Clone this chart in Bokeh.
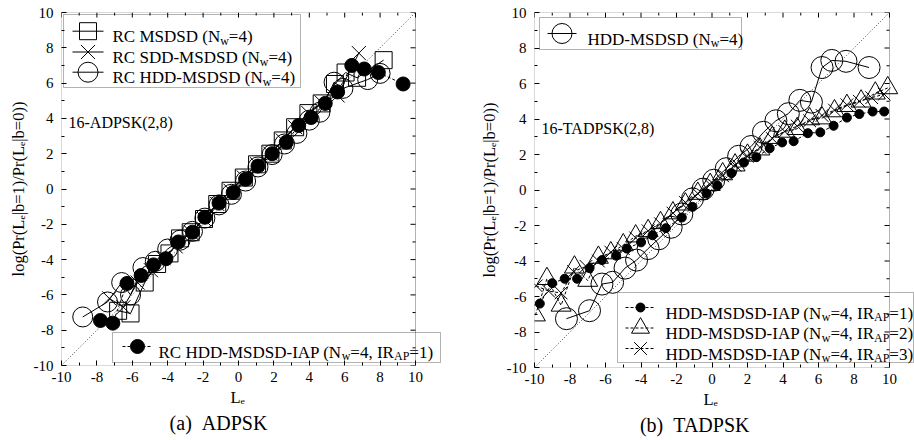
from bokeh.plotting import figure
from bokeh.layouts import row
from bokeh.models import Range1d, FixedTicker, Label, BoxAnnotation, Title
from bokeh.embed import file_html
from bokeh.resources import INLINE

# ---------------- panel (a): 16-ADPSK(2,8) ----------------
a_msdsd_x = [-6.8, -6.1, -5.3, -4.6, -3.9, -3.3, -2.7, -1.95, -1.2, -0.45, 0.3, 1.05, 1.8, 2.5, 3.2, 3.95, 4.7, 5.45, 6.05, 6.7, 8.2]
a_msdsd_y = [-6.9, -7.05, -5.3, -4.25, -3.65, -2.8, -2.45, -1.7, -0.85, -0.1, 0.65, 1.4, 2.0, 2.75, 3.5, 4.3, 4.85, 5.95, 6.6, 6.3, 7.3]

a_sdd_x = [-7.3, -6.5, -5.7, -4.95, -4.25, -3.55, -2.7, -1.95, -1.2, -0.45, 0.3, 1.05, 1.8, 2.5, 3.2, 3.95, 4.7, 5.6, 6.8]
a_sdd_y = [-6.2, -6.7, -5.3, -4.6, -3.9, -3.25, -2.45, -1.7, -0.85, -0.1, 0.65, 1.4, 2.0, 2.75, 3.5, 4.3, 4.9, 5.3, 7.7]

a_hdd_x = [-8.8, -7.4, -6.6, -6.1, -5.4, -4.7, -4.0, -3.3, -2.6, -1.9, -1.1, -0.4, 0.4, 1.1, 1.9, 2.6, 3.3, 4.0, 4.6, 5.4, 5.9, 7.3, 8.0]
a_hdd_y = [-7.25, -6.4, -5.3, -6.0, -4.45, -4.1, -3.4, -2.9, -2.4, -1.65, -0.9, -0.3, 0.45, 1.25, 1.95, 2.55, 3.15, 3.9, 4.35, 6.05, 5.7, 6.2, 6.55]

a_iap_x = [-7.8, -7.1, -6.3, -5.5, -4.8, -4.1, -3.4, -2.6, -1.9, -1.1, -0.3, 0.4, 1.1, 1.9, 2.7, 3.4, 4.1, 4.9, 5.6, 6.4, 7.1, 7.9, 9.3]
a_iap_y = [-7.45, -7.6, -5.35, -4.9, -4.3, -3.95, -3.0, -2.45, -1.6, -0.8, -0.2, 0.55, 1.3, 2.0, 2.65, 3.6, 4.05, 4.85, 5.5, 7.0, 6.8, 6.6, 5.95]

# ---------------- panel (b): 16-TADPSK(2,8) ----------------
b_hdd_x = [-8.2, -6.9, -6.2, -5.6, -4.9, -4.25, -3.6, -3.0, -2.3, -1.7, -1.1, -0.5, 0.1, 0.8, 1.5, 2.2, 2.9, 3.6, 4.3, 4.95, 5.6, 6.2, 6.75, 7.55, 8.85]
b_hdd_y = [-7.25, -6.8, -5.3, -5.2, -4.4, -3.95, -3.3, -2.75, -2.1, -1.35, -0.5, 0.05, 0.55, 1.2, 1.9, 2.45, 3.25, 3.9, 4.3, 5.05, 4.95, 6.9, 7.3, 7.25, 6.9]

b_iap1_x = [-9.7, -9.0, -8.3, -7.6, -6.9, -6.2, -5.4, -4.8, -4.0, -3.35, -2.6, -1.7, -1.1, -0.3, 0.3, 1.1, 1.8, 2.5, 3.25, 3.95, 4.6, 5.4, 6.1, 6.85, 7.6, 8.3, 9.05, 9.7]
b_iap1_y = [-6.4, -5.25, -5.0, -5.0, -4.4, -3.95, -3.7, -3.3, -2.95, -2.55, -2.15, -1.55, -0.95, -0.2, 0.25, 0.95, 1.55, 1.85, 2.35, 2.68, 2.75, 3.2, 3.25, 3.62, 4.08, 4.28, 4.42, 4.42]

b_iap2_x = [-9.95, -9.3, -8.5, -7.75, -7.0, -6.4, -5.7, -5.0, -4.3, -3.6, -2.9, -2.2, -1.5, -0.8, -0.1, 0.6, 1.3, 2.0, 2.7, 3.4, 4.1, 4.8, 5.5, 6.2, 6.9, 7.6, 8.4, 9.2, 9.9]
b_iap2_y = [-7.05, -5.0, -6.5, -4.35, -5.1, -3.8, -3.55, -3.1, -2.6, -2.3, -1.85, -1.3, -0.8, -0.2, 0.3, 0.9, 1.4, 1.95, 2.3, 2.95, 3.3, 3.45, 4.0, 4.05, 4.45, 4.75, 5.0, 5.45, 5.75]

b_iap3_x = [-9.9, -9.2, -8.5, -7.8, -7.1, -6.4, -5.7, -5.0, -4.3, -3.6, -2.9, -2.2, -1.5, -0.8, -0.1, 0.6, 1.3, 2.0, 2.7, 3.4, 4.1, 4.8, 5.5, 6.2, 6.9, 7.6, 8.3, 9.0, 9.7]
b_iap3_y = [-5.4, -5.7, -5.8, -4.6, -4.3, -4.0, -3.5, -3.3, -2.7, -2.3, -1.9, -1.3, -0.7, -0.2, 0.3, 0.8, 1.4, 1.9, 2.4, 2.9, 3.3, 3.6, 3.9, 4.2, 4.5, 4.8, 5.0, 5.2, 5.4]

# axis extent, ticks and the y = x reference line
axis_min, axis_max = -10, 10
major_ticks = [-10, -8, -6, -4, -2, 0, 2, 4, 6, 8, 10]
minor_ticks = [-9, -7, -5, -3, -1, 1, 3, 5, 7, 9]
diag = [axis_min, axis_max]

SERIF = "Liberation Serif"
MAIN = 17
SUB = 12
DROP = 4
Y_LABEL = "log(Pr(L\u2091|b=1)/Pr(L\u2091|b=0))"
X_LABEL = "L\u2091"

# advance widths of the Times-metric serif face (per 1000 em)
ADV = {}
for ch, w in zip("abcdefghijklmnopqrstuvwxyz",
                 [444, 500, 444, 500, 444, 333, 500, 500, 278, 278, 500, 278, 778,
                  500, 500, 500, 500, 333, 389, 278, 500, 500, 722, 500, 500, 444]):
    ADV[ch] = w
for ch, w in zip("ABCDEFGHIJKLMNOPQRSTUVWXYZ",
                 [722, 667, 667, 722, 611, 556, 722, 722, 333, 389, 722, 611, 889,
                  722, 722, 556, 722, 667, 556, 611, 722, 722, 944, 722, 722, 611]):
    ADV[ch] = w
for ch in "0123456789":
    ADV[ch] = 500
ADV.update({" ": 250, "\u00a0": 250, "(": 333, ")": 333, "=": 564, ",": 250,
            "-": 333, "|": 200, "/": 278, ".": 250})


def text_px(s, size):
    return sum(ADV.get(c, 500) for c in s) * size / 1000.0


def rich_text(p, x, y, parts, size=MAIN, sub=SUB, drop=DROP):
    """Place a line made of normal and subscript runs (frame pixel units)."""
    pos = x
    for s, is_sub in parts:
        fs = sub if is_sub else size
        p.add_layout(Label(x=pos, y=y - (drop if is_sub else 0), x_units="screen", y_units="screen",
                           text=s, text_font=SERIF, text_font_size=f"{fs}px", text_color="black",
                           text_align="left", text_baseline="alphabetic"))
        pos += text_px(s, fs)


def style_axis(ax, standoff, label, label_standoff):
    ax.ticker = FixedTicker(ticks=major_ticks, minor_ticks=minor_ticks)
    ax.major_label_overrides = {t: str(t) for t in major_ticks}
    ax.axis_line_color = None
    ax.major_tick_line_color = "black"
    ax.minor_tick_line_color = "black"
    ax.major_tick_in = 5
    ax.major_tick_out = 0
    ax.minor_tick_in = 3
    ax.minor_tick_out = 0
    ax.major_label_text_font = SERIF
    ax.major_label_text_font_size = "15px"
    ax.major_label_text_color = "black"
    ax.major_label_standoff = standoff
    if label:
        ax.axis_label = label
        ax.axis_label_text_font = SERIF
        ax.axis_label_text_font_size = "16.5px"
        ax.axis_label_text_font_style = "normal"
        ax.axis_label_text_color = "black"
        ax.axis_label_standoff = label_standoff


def panel(fl, ft, fw, fh, tw, th, ux, uy, label_standoff):
    """ux, uy: pixels per axis unit; the frame runs on to the right edge for the legends."""
    p = figure(width=tw, height=th, frame_width=fw, frame_height=fh,
               min_border_left=fl, min_border_top=ft,
               min_border_right=0, min_border_bottom=th - ft - fh,
               x_range=Range1d(axis_min, axis_min + fw / ux),
               y_range=Range1d(axis_min, axis_max),
               output_backend="svg", toolbar_location=None, tools="")
    p.extra_x_ranges = {"px": Range1d(0, fw)}
    p.extra_y_ranges = {"px": Range1d(0, fh)}
    p.xgrid.visible = False
    p.ygrid.visible = False
    p.outline_line_color = None
    p.background_fill_color = "white"
    p.border_fill_color = "white"
    style_axis(p.xaxis[0], 6, None, 0)
    style_axis(p.yaxis[0], 8, Y_LABEL, label_standoff)
    # plot box with inward ticks on the top and right sides
    p.add_layout(BoxAnnotation(left=axis_min, right=axis_max, bottom=axis_min, top=axis_max,
                               fill_alpha=0, line_color="black", line_width=1, level="overlay"))
    for ticks, ln in ((major_ticks, 5), (minor_ticks, 3)):
        p.segment(x0=ticks, x1=ticks, y0=[axis_max] * len(ticks),
                  y1=[axis_max - ln / uy] * len(ticks), line_color="black", line_width=1)
        p.segment(x0=[axis_max] * len(ticks), x1=[axis_max - ln / ux] * len(ticks),
                  y0=ticks, y1=ticks, line_color="black", line_width=1)
    p.line(diag, diag, line_color="#444444", line_width=1, line_dash="1 2")
    return p


def series(p, xs, ys, marker, size, dash, filled):
    p.line(xs, ys, line_color="black", line_width=1, line_dash=dash)
    p.scatter(xs, ys, marker=marker, size=size, line_color="black", line_width=1,
              fill_color="black" if filled else None)


def key(p, conv, cy, x0, x1, marker, size, dash, filled):
    a, y = conv(x0, cy)
    b, _ = conv(x1, cy)
    p.line([a, b], [y, y], x_range_name="px", y_range_name="px",
           line_color="black", line_width=1, line_dash=dash)
    p.scatter([(a + b) / 2.0], [y], x_range_name="px", y_range_name="px", marker=marker, size=size,
              line_color="black", line_width=1, fill_color="black" if filled else None)


def box(p, conv, x0, y0, x1, y1):
    l, t = conv(x0, y0)
    r, b = conv(x1, y1)
    p.add_layout(BoxAnnotation(left=l, right=r, top=t, bottom=b,
                               left_units="screen", right_units="screen",
                               top_units="screen", bottom_units="screen",
                               fill_color="white", fill_alpha=1.0,
                               line_color="black", line_width=1, level="underlay"))


def below_titles(p, frame_left, xlabel_left, caption, caption_left):
    p.add_layout(Title(text=X_LABEL, align="left", offset=xlabel_left - frame_left, standoff=2,
                       text_font=SERIF, text_font_size="16.5px", text_font_style="normal",
                       text_color="black"), "below")
    p.add_layout(Title(text=caption, align="left", offset=caption_left - frame_left, standoff=4,
                       text_font=SERIF, text_font_size="20px", text_font_style="normal",
                       text_color="black"), "below")


# ---------------- left panel ----------------
pa = panel(61, 12, 396, 353, 457, 440, 17.7, 17.65, 3)


def ca(cx, cy):
    return cx - 61, 365 - cy


series(pa, a_msdsd_x, a_msdsd_y, "square", 17, "solid", False)
series(pa, a_sdd_x, a_sdd_y, "x", 20, "solid", False)
series(pa, a_hdd_x, a_hdd_y, "circle", 20, "solid", False)
series(pa, a_iap_x, a_iap_y, "circle", 14, "3 2", True)

box(pa, ca, 63, 14, 300, 87)
top_rows = [(30.7, "square", 17, "RC MSDSD (N"),
            (51.5, "x", 20, "RC SDD-MSDSD (N"),
            (71.7, "circle", 20, "RC HDD-MSDSD (N")]
for cy, mk, sz, txt in top_rows:
    key(pa, ca, cy, 72, 103, mk, sz, "solid", False)
    tx, ty = ca(112, cy + 5.5)
    rich_text(pa, tx, ty, [(txt, False), ("w", True), ("=4)", False)])

box(pa, ca, 112, 332, 440, 362)
key(pa, ca, 346, 122, 152, "circle", 14, "3 2", True)
tx, ty = ca(158, 351.5)
rich_text(pa, tx, ty, [("RC HDD-MSDSD-IAP (N", False), ("w", True), ("=4, IR", False),
                       ("AP", True), ("=1)", False)])

tx, ty = ca(68, 122)
rich_text(pa, tx, ty, [("16-ADPSK(2,8)", False)], size=16)
cap_a = "(a)\u00a0\u00a0ADPSK"
below_titles(pa, 61, 230, cap_a, 218 - text_px(cap_a, 20) / 2)

# ---------------- right panel ----------------
pb = panel(77, 7, 380, 355, 457, 440, 17.75, 17.75, 5)


def cb(cx, cy):
    return cx - 534, 362 - cy


series(pb, b_hdd_x, b_hdd_y, "circle", 22, "solid", False)
series(pb, b_iap2_x, b_iap2_y, "triangle", 20, "3 2", False)
series(pb, b_iap3_x, b_iap3_y, "x", 18, "3 2", False)
series(pb, b_iap1_x, b_iap1_y, "circle", 9, "3 2", True)

box(pb, cb, 539, 12, 741, 44)
key(pb, cb, 28, 547, 576, "circle", 20, "solid", False)
tx, ty = cb(587, 33.5)
rich_text(pb, tx, ty, [("HDD-MSDSD (N", False), ("w", True), ("=4)", False)])

box(pb, cb, 617, 287, 913, 357)
bottom_rows = [(302, "circle", 9, True, "1"),
               (322.5, "triangle", 18, False, "2"),
               (343, "x", 18, False, "3")]
for cy, mk, sz, fill, k in bottom_rows:
    key(pb, cb, cy, 625, 655, mk, sz, "3 2", fill)
    tx, ty = cb(665, cy + 5.5)
    rich_text(pb, tx, ty, [("HDD-MSDSD-IAP (N", False), ("w", True), ("=4, IR", False),
                           ("AP", True), ("=" + k + ")", False)])

tx, ty = cb(541, 123)
rich_text(pb, tx, ty, [("16-TADPSK(2,8)", False)], size=16)
cap_b = "(b)\u00a0\u00a0TADPSK"
below_titles(pb, 534, 703, cap_b, 695 - text_px(cap_b, 20) / 2)

layout = row(pa, pb)
open("out.html", "w").write(file_html(layout, INLINE))
